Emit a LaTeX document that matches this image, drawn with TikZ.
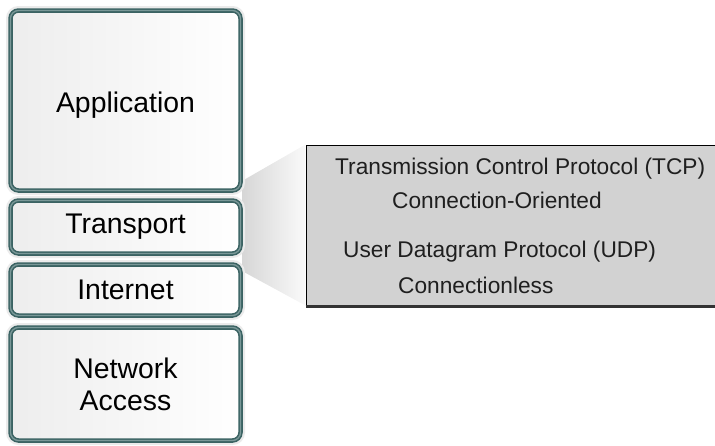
\documentclass[tikz,border=0pt]{standalone}
\usepackage{fontspec}
\setmainfont{Liberation Sans}
\definecolor{tealdark}{HTML}{3B6363}
\definecolor{tealmid}{HTML}{7A9898}
\definecolor{boxgray}{HTML}{D2D2D2}
\begin{document}
\begin{tikzpicture}[x=1pt,y=-1pt,
  layer/.style={rectangle, rounded corners=8pt, minimum width=230pt, inner sep=0pt,
    left color=gray!14, right color=white, draw=tealdark, line width=4.5pt,
    preaction={draw=gray!16, line width=9pt},
    postaction={draw=tealmid, line width=1.3pt},
    font=\fontsize{28.4}{32}\selectfont, align=center, text=black},
  proto/.style={font=\fontsize{22.7}{26}\selectfont, anchor=base west, inner sep=0pt, text=black!88}]
\useasboundingbox (0,0) rectangle (715,445);
\clip (0,0) rectangle (715,445);
% protocol box and wedge
\node[rectangle, fill=boxgray, draw=black, line width=1pt, minimum width=430pt, minimum height=160pt, inner sep=0pt] (pbox) at (521,225) {};
\coordinate (w1) at (242,181);
\coordinate (w2) at (242,271);
\shade[left color=gray!32, right color=gray!4] (w1) -- (pbox.north west) -- (pbox.south west) -- (w2) -- cycle;
\draw[line width=3.5pt, black!80] ([yshift=-1pt]pbox.south west) -- ([yshift=-1pt]pbox.south east);
% layers
\node[layer, minimum height=180pt] (app) at (125.5,100.5) {\raisebox{-11.5pt}[0pt][0pt]{Application}};
\node[layer, minimum height=53pt] (trans) at (125.5,227) {Transport};
\node[layer, minimum height=51pt] (inet) at (125.5,290) {Internet};
\node[layer, minimum height=113pt] (netacc) at (125.5,384) {Network\\Access};
% texts
\node[proto] (tcp) at (335,174) {Transmission Control Protocol (TCP)};
\node[proto] (co) at (392,208) {Connection-Oriented};
\node[proto] (udp) at (343,257) {User Datagram Protocol (UDP)};
\node[proto] (cl) at (398,293) {Connectionless};
\end{tikzpicture}
\end{document}
